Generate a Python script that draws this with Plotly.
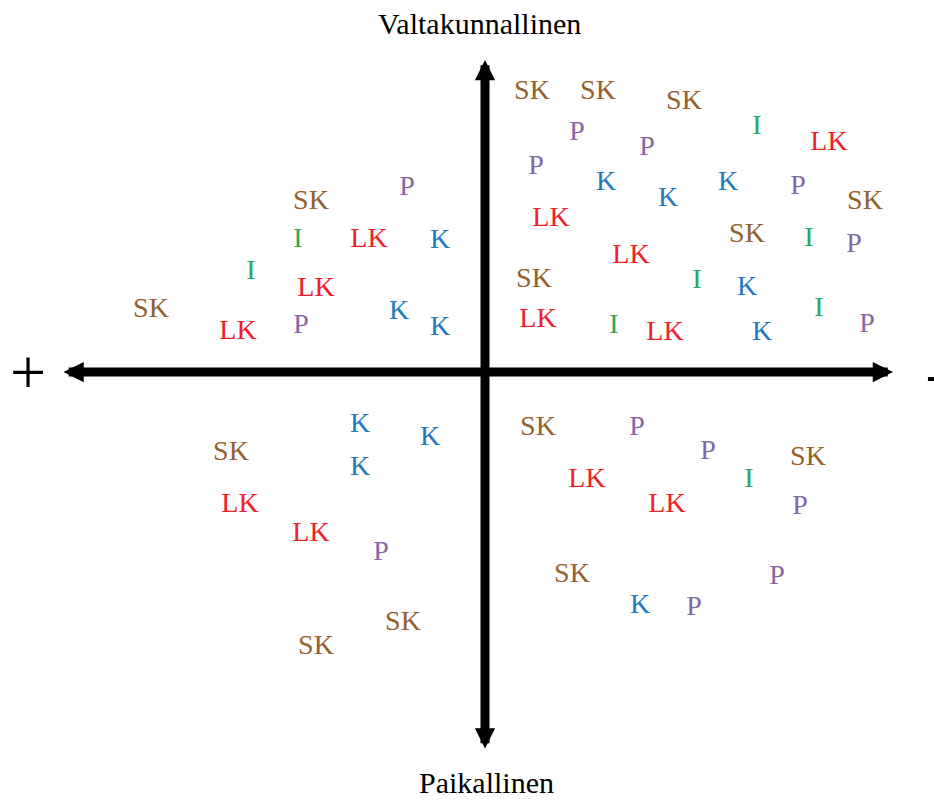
import plotly.graph_objects as go

# Label positions (horizontal: left "+" ... right "-"; vertical: up = Valtakunnallinen, down = Paikallinen)
sk_x = [-334, -174, 47, 113, 199, 380, 262, 49, -254, -82, -169, 53, 323, 87]
sk_y = [62, 170, 280, 280, 270, 170, 137, 92, -81, -251, -275, -56, -86, -203]

lk_x = [-247, -169, -116, 344, 66, 146, 53, 180, -245, -174, 102, 182]
lk_y = [40, 83, 132, 229, 153, 116, 52, 39, -133, -162, -108, -133]

k_x = [-45, -86, -45, 121, 183, 243, 262, 277, -125, -55, -125, 155]
k_y = [131, 60, 44, 189, 173, 189, 84, 39, -53, -66, -96, -234]

p_x = [-184, -78, 92, 162, 51, 313, 369, 382, -104, 152, 223, 315, 292, 209]
p_y = [46, 184, 239, 224, 205, 185, 127, 47, -181, -56, -80, -135, -205, -236]

i_x = [-234, -187, 272, 324, 212, 334, 129, 264]
i_y = [100, 132, 245, 133, 91, 63, 46, -108]

series = [
    ("SK", sk_x, sk_y, "#93602E"),
    ("LK", lk_x, lk_y, "#F0202A"),
    ("K", k_x, k_y, "#2479BE"),
    ("P", p_x, p_y, "#8466A6"),
    ("I", i_x, i_y, "#2BA55E"),
]

axis_top = "Valtakunnallinen"
axis_bottom = "Paikallinen"
axis_left = "+"
axis_right = "-"

FONT = "Liberation Serif, Times New Roman, serif"

fig = go.Figure()
for name, xs, ys, col in series:
    fig.add_trace(go.Scatter(
        x=xs, y=ys, mode="text", text=[name] * len(xs),
        textposition="middle center",
        textfont=dict(family=FONT, size=28, color=col),
        showlegend=False, hoverinfo="skip",
    ))

# axes arrows
fig.add_annotation(x=408, y=0, ax=-423, ay=0, xref="x", yref="y", axref="x", ayref="y",
                   text="", showarrow=True, arrowhead=2, arrowside="end+start",
                   arrowwidth=9, arrowsize=0.45, arrowcolor="black", standoff=0, startstandoff=0)
fig.add_annotation(x=0, y=312, ax=0, ay=-378, xref="x", yref="y", axref="x", ayref="y",
                   text="", showarrow=True, arrowhead=2, arrowside="end+start",
                   arrowwidth=9, arrowsize=0.45, arrowcolor="black", standoff=0, startstandoff=0)

fig.add_annotation(x=-6, y=349, text=axis_top, showarrow=False,
                   font=dict(family=FONT, size=30, color="black"))
fig.add_annotation(x=1, y=-410, text=axis_bottom, showarrow=False,
                   font=dict(family=FONT, size=30, color="black"))
fig.add_annotation(x=-457, y=0, text=axis_left, showarrow=False,
                   font=dict(family=FONT, size=64, color="black"))
fig.add_annotation(x=1, xref="paper", y=0, yref="y", text=axis_right, showarrow=False,
                   xanchor="left", xshift=-10, yshift=-2,
                   font=dict(family=FONT, size=52, color="black"))

fig.update_layout(
    width=934, height=800,
    margin=dict(l=0, r=0, t=0, b=0),
    paper_bgcolor="white", plot_bgcolor="white",
    xaxis=dict(range=[-485, 449], visible=False, fixedrange=True),
    yaxis=dict(range=[-428, 372], visible=False, fixedrange=True),
)

fig.write_html("out.html", config={"displayModeBar": False},
               post_script="document.body.style.margin='0px';document.body.style.overflow='hidden';")
